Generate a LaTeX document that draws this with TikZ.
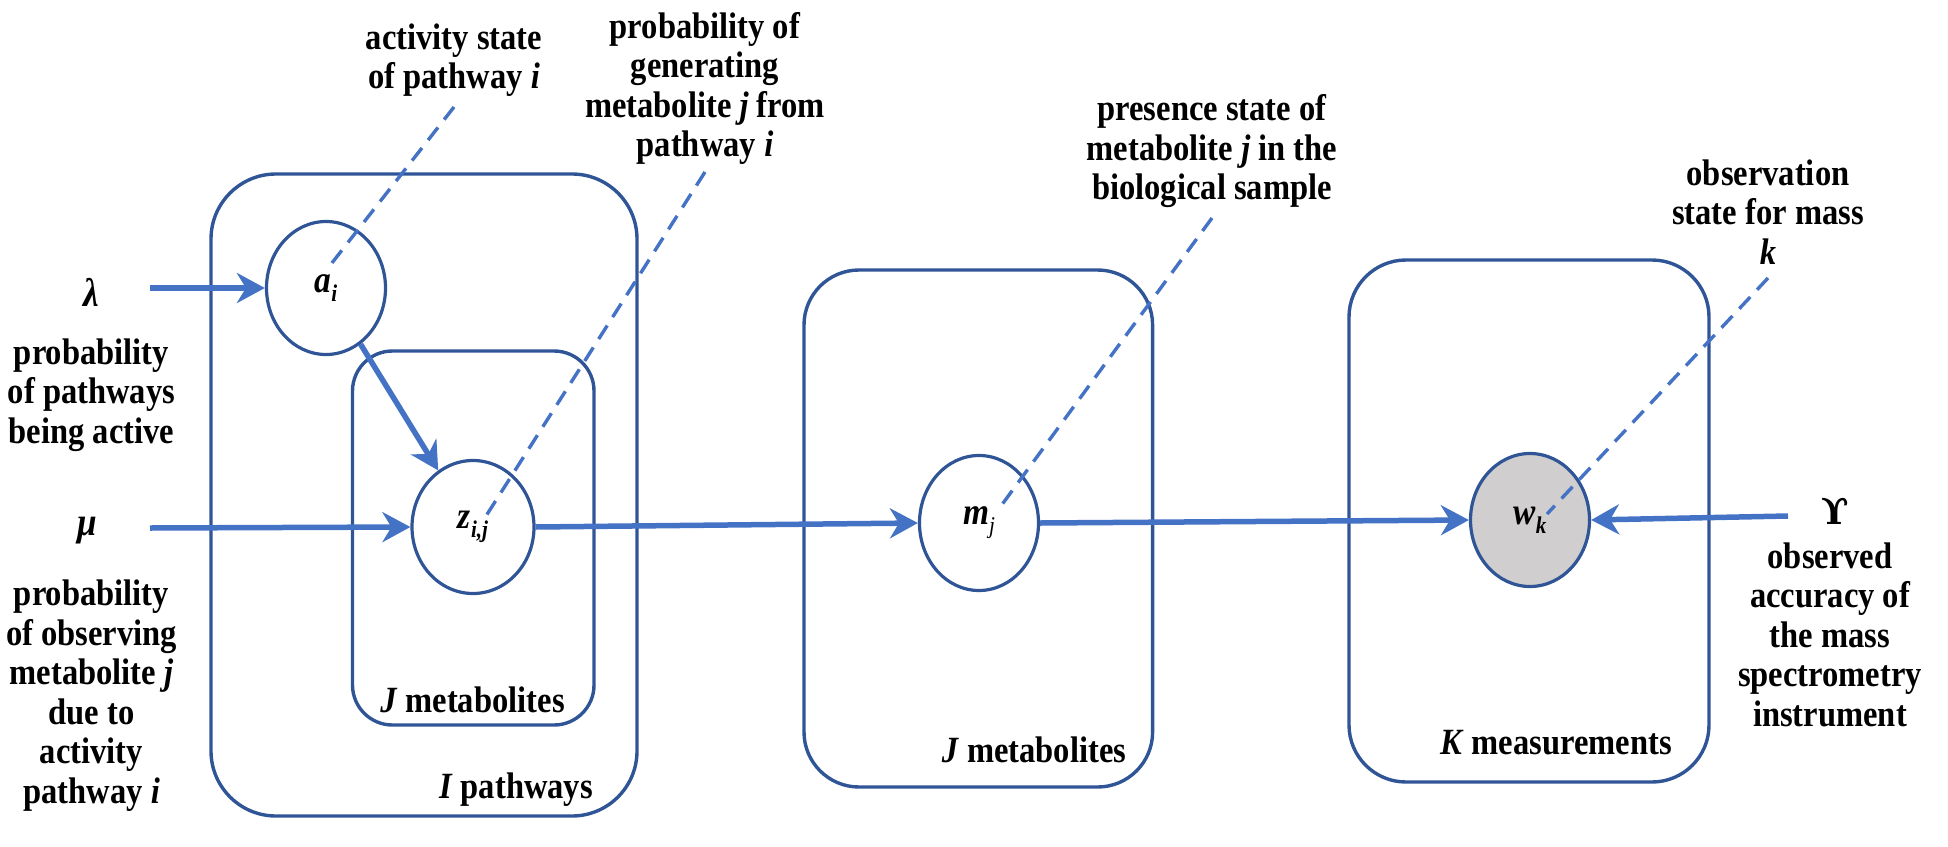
\documentclass[tikz,border=0pt]{standalone}
\usepackage{fontspec}
\setmainfont{Liberation Serif}[FakeStretch=0.88]
\newfontfamily\dvserif{DejaVu Serif}
\usetikzlibrary{arrows.meta,shapes.geometric}
\definecolor{plateblue}{HTML}{2F5597}
\definecolor{arrowblue}{HTML}{4472C4}
\definecolor{obsgray}{HTML}{D0CECE}
\newcommand\rvsub[1]{\raisebox{-9pt}{\fontsize{24}{24}\selectfont #1}}
\begin{document}
\begin{tikzpicture}[x=1pt,y=-1pt,
  lbl/.style={align=center,inner sep=0pt,font=\fontsize{37}{39.5}\selectfont\bfseries},
  greek/.style={inner sep=0pt,font=\fontsize{40}{40}\selectfont\bfseries\itshape},
  plate/.style={draw=plateblue,line width=3.4pt,rounded corners=#1,inner sep=0pt},
  rv/.style={ellipse,draw=plateblue,line width=3.2pt,minimum width=119pt,minimum height=133pt,inner sep=0pt,font=\fontsize{38}{38}\selectfont\bfseries\itshape},
  flow/.style={draw=arrowblue,line width=5.5pt,-{Stealth[length=28pt,width=30pt,inset=9pt]}},
  note/.style={draw=arrowblue,line width=3.4pt,dash pattern=on 16pt off 10pt},
]
\useasboundingbox (0,0) rectangle (1948,846);

% plates
\node[plate=65pt,minimum width=426pt,minimum height=642pt] (plateI) at (424,495) {};
\node[plate=40pt,minimum width=241.5pt,minimum height=374pt] (plateJa) at (473.25,538) {};
\node[plate=55pt,minimum width=348.6pt,minimum height=517pt] (plateJb) at (978.3,528.5) {};
\node[plate=57pt,minimum width=360pt,minimum height=522pt] (plateK) at (1529,521) {};

\node[lbl] (labJa) at (472.5,700) {\textit{J} metabolites};
\node[lbl] (labI) at (516,790) {\textit{I} pathways};
\node[lbl] (labJb) at (1034,750) {\textit{J} metabolites};
\node[lbl] (labK) at (1556,743) {\textit{K} measurements};

% random variables
\node[rv] (a) at (326,288) {a\rvsub{i}};
\node[rv,minimum width=122pt] (z) at (473,527) {z\rvsub{i,j}};
\node[rv,minimum height=135pt] (m) at (979,523) {m\rvsub{\mdseries j}};
\node[rv,fill=obsgray] (w) at (1530,520) {w\rvsub{k}};

% hyperparameters
\node[greek] (lam) at (91.5,292) {λ};
\node[lbl] (lamTxt) at (91.5,395) {probability\\of pathways\\being active};
\node[greek] (mu) at (87,531) {μ};
\node[lbl] (muTxt) at (91.5,695.5) {probability\\of observing\\metabolite \textit{j}\\due to\\activity\\pathway \textit{i}};
\node[inner sep=0pt,font=\fontsize{36}{36}\selectfont\dvserif\bfseries] (ups) at (1835,511) {ϒ};
\node[lbl] (upsTxt) at (1830,634.5) {observed\\accuracy of\\the mass\\spectrometry\\instrument};

% annotations
\node[lbl] (actLbl) at (454,60) {activity state\\of pathway \textit{i}};
\node[lbl] (genLbl) at (705,88.5) {probability of\\generating\\metabolite \textit{j} from\\pathway \textit{i}};
\node[lbl] (presLbl) at (1212,151.5) {presence state of\\metabolite \textit{j} in the\\biological sample};
\node[lbl] (obsLbl) at (1768,212) {observation\\state for mass\\\textit{k}};

% arrow start points
\coordinate (lamS) at (150,288);
\coordinate (muS) at (150,528);
\coordinate (upsS) at (1788,516);

\draw[flow] (lamS) -- (a.west);
\draw[flow] (muS) -- (z.west);
\draw[flow] (a) -- (z);
\draw[flow] (z.east) -- (m.west);
\draw[flow] (m.east) -- (w.west);
\draw[flow] (upsS) -- (w.east);

% dashed leaders
\coordinate (dA1) at (454,107);
\coordinate (dA2) at (328,268);
\coordinate (dZ1) at (705,172);
\coordinate (dZ2) at (486,516);
\coordinate (dM1) at (1212,218);
\coordinate (dM2) at (998,510);
\coordinate (dW1) at (1768,278);
\coordinate (dW2) at (1547,514);
\draw[note] (dA1) -- (dA2);
\draw[note] (dZ1) -- (dZ2);
\draw[note] (dM1) -- (dM2);
\draw[note] (dW1) -- (dW2);
\end{tikzpicture}
\end{document}
